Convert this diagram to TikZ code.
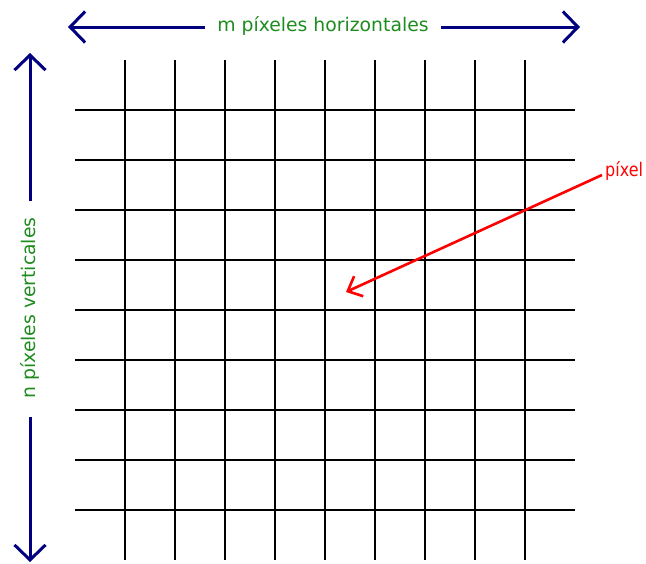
\documentclass[tikz,border=0pt]{standalone}
\usepackage{fontspec}
\setmainfont{DejaVu Sans}
\usetikzlibrary{arrows.meta}
\definecolor{navy}{RGB}{0,0,128}
\definecolor{lblgreen}{RGB}{30,140,30}
\definecolor{redarrow}{RGB}{255,0,0}
\begin{document}
\begin{tikzpicture}[x=1pt,y=-1pt,
  gridline/.style={line width=2pt,black},
  dimarrow/.style={line width=3pt,navy,-{Straight Barb[length=15pt,width=31pt]}},
  lbl/.style={text=lblgreen,font=\fontsize{18.8}{22}\selectfont,inner sep=0pt},
  ptrarrow/.style={line width=2.6pt,redarrow,-{Straight Barb[length=12pt,width=22pt]}}]
\useasboundingbox (0,0) rectangle (646,563);
% grid
\foreach \i in {1,...,9}{
  \draw[gridline] (75+50*\i,60) -- (75+50*\i,560);
  \draw[gridline] (75,60+50*\i) -- (575,60+50*\i);
}
% top dimension
\node[lbl] (mtxt) at (323,26) {m píxeles horizontales};
\coordinate (tl) at (68,27);
\coordinate (tr) at (580,27);
\coordinate (tla) at (205,27);
\coordinate (tra) at (441,27);
\draw[dimarrow] (tla) -- (tl);
\draw[dimarrow] (tra) -- (tr);
% left dimension
\node[lbl,rotate=90] (ntxt) at (30,308) {n píxeles verticales};
\coordinate (lt) at (30,53);
\coordinate (lb) at (30,562);
\coordinate (lta) at (30,201);
\coordinate (lba) at (30,417);
\draw[dimarrow] (lta) -- (lt);
\draw[dimarrow] (lba) -- (lb);
% pixel pointer
\node[anchor=west,text=redarrow,font=\fontsize{18.8}{22}\selectfont,inner sep=0pt] (ptxt) at (605,171) {\scalebox{0.85}[1]{píxel}};
\coordinate (ptip) at (346,292);
\coordinate (pstart) at (602,175);
\draw[ptrarrow] (pstart) -- (ptip);
\end{tikzpicture}
\end{document}
